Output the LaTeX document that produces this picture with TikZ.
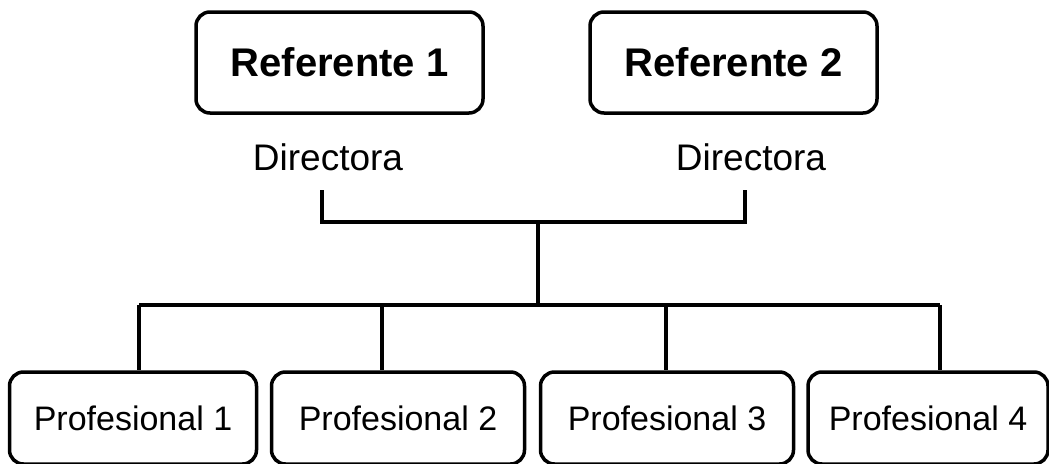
\documentclass[tikz,border=0pt]{standalone}
\usepackage{fontspec}
\setmainfont{Liberation Sans}
\usetikzlibrary{positioning}
\tikzset{
  caja/.style={draw, line width=3.5pt, rounded corners=14pt, inner sep=0pt},
  ref/.style={caja, minimum width=287pt, minimum height=101pt,
    font=\fontsize{40}{44}\selectfont\bfseries},
  prof/.style={caja, minimum height=92pt,
    font=\fontsize{34}{38}\selectfont},
  cargo/.style={font=\fontsize{37}{40}\selectfont},
}
\begin{document}
\begin{tikzpicture}[x=1pt, y=-1pt, line width=3.5pt]
  \clip (0,0) rectangle (1049,463);

  \node (1) [ref] at (339.5,62.5) {Referente 1};
  \node (2) [ref] at (733.5,62.5) {Referente 2};
  \node (3) [cargo] at (328,157) {Directora};
  \node (4) [cargo] at (751,157) {Directora};

  \node (5) [prof, minimum width=247pt] at (133,418) {Profesional 1};
  \node (6) [prof, minimum width=253pt] at (398,418) {Profesional 2};
  \node (7) [prof, minimum width=253pt] at (667,418) {Profesional 3};
  \node (8) [prof, minimum width=240pt] at (928,418) {Profesional 4};

  \coordinate (a) at (322,190);
  \coordinate (b) at (745,190);
  \coordinate (c) at (538,222);
  \coordinate (d) at (538,305);
  \coordinate (p1) at (139,305);
  \coordinate (p2) at (382,305);
  \coordinate (p3) at (666,305);
  \coordinate (p4) at (940,305);

  \draw (a) |- (c) -| (b);
  \draw (c) -- (d);
  \draw (p1) -- (p4);
  \draw (p1) -- (p1 |- 5.north);
  \draw (p2) -- (p2 |- 6.north);
  \draw (p3) -- (p3 |- 7.north);
  \draw (p4) -- (p4 |- 8.north);
\end{tikzpicture}
\end{document}
